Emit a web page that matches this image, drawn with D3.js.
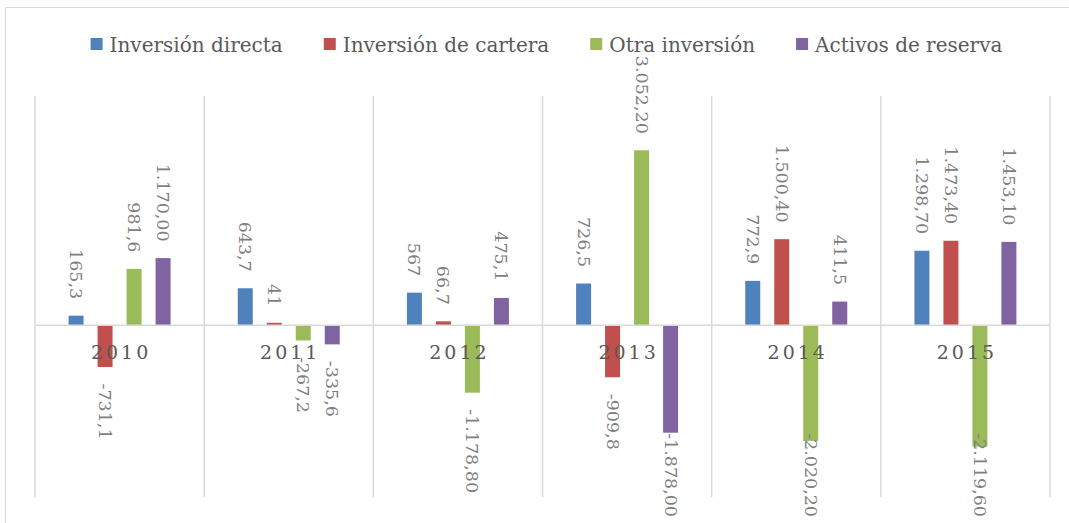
<!DOCTYPE html>
<html>
<head>
<meta charset="utf-8">
<script src="https://cdn.jsdelivr.net/npm/d3@7"></script>
<style>
  body { margin: 0; background: #fff; }
  svg { display: block; }
</style>
</head>
<body>
<div id="chart"></div>
<script>
// data
var years = ["2010", "2011", "2012", "2013", "2014", "2015"];
var seriesNames = ["Inversión directa", "Inversión de cartera", "Otra inversión", "Activos de reserva"];
var inversionDirecta = [165.3, 643.7, 567, 726.5, 772.9, 1298.7];
var inversionCartera = [-731.1, 41, 66.7, -909.8, 1500.4, 1473.4];
var otraInversion = [981.6, -267.2, -1178.8, 3052.2, -2020.2, -2119.6];
var activosReserva = [1170.0, -335.6, 475.1, -1878.0, 411.5, 1453.1];
var colors = ["#4F81BD", "#C0504D", "#9BBB59", "#8064A2"];

var allValues = [inversionDirecta, inversionCartera, otraInversion, activosReserva];

var W = 1069, H = 523;
var svg = d3.select("#chart").append("svg")
  .attr("width", W)
  .attr("height", H);

// chart border (only top & left visible)
svg.append("rect")
  .attr("x", 5.5).attr("y", 7.5)
  .attr("width", 1200).attr("height", 700)
  .attr("fill", "none")
  .attr("stroke", "#d9d9d9")
  .attr("stroke-width", 1);

var x = d3.scaleBand()
  .domain(years)
  .range([35, 1050])
  .padding(0);

var xs = d3.scaleBand()
  .domain(seriesNames)
  .range([0, x.bandwidth()])
  .paddingInner(0.483)
  .paddingOuter(1.158);

var y = d3.scaleLinear()
  .domain([-3000, 4000])
  .range([497, 96]);

var loc = d3.formatLocale({decimal: ",", thousands: ".", grouping: [3], currency: ["", ""], minus: "-"});
function fmtVal(v) {
  if (Math.abs(v) >= 1000) return loc.format(",.2f")(v);
  if (Number.isInteger(v)) return loc.format("d")(v);
  return loc.format(".1f")(v);
}

// vertical category separators
var bounds = years.map(function(d) { return x(d); }).concat([x.range()[1]]);
svg.append("g").selectAll("line")
  .data(bounds)
  .enter().append("line")
    .attr("x1", function(d) { return d; })
    .attr("x2", function(d) { return d; })
    .attr("y1", y(4000))
    .attr("y2", y(-3000))
    .attr("stroke", "#d9d9d9")
    .attr("stroke-width", 1.5);

// flatten for bars
var rows = [];
years.forEach(function(yr, i) {
  seriesNames.forEach(function(s, j) {
    rows.push({year: yr, series: s, value: allValues[j][i], color: colors[j]});
  });
});

svg.append("g").selectAll("rect")
  .data(rows)
  .enter().append("rect")
    .attr("x", function(d) { return x(d.year) + xs(d.series); })
    .attr("y", function(d) { return y(Math.max(0, d.value)); })
    .attr("width", xs.bandwidth())
    .attr("height", function(d) { return Math.abs(y(d.value) - y(0)); })
    .attr("fill", function(d) { return d.color; });

// zero axis line
svg.append("line")
  .attr("x1", x.range()[0]).attr("x2", x.range()[1])
  .attr("y1", y(0)).attr("y2", y(0))
  .attr("stroke", "#d9d9d9")
  .attr("stroke-width", 1.5);

// category labels
svg.append("g").selectAll("text")
  .data(years)
  .enter().append("text")
    .attr("x", function(d) { return x(d) + x.bandwidth() / 2 + 1.5; })
    .attr("y", 359)
    .attr("text-anchor", "middle")
    .attr("font-family", "DejaVu Serif")
    .attr("font-size", "19px")
    .attr("letter-spacing", "3px")
    .attr("fill", "#595959")
    .text(function(d) { return d; });

// data labels, rotated
var gap = 16.5, bottomLimit = 517;
var labels = svg.append("g").selectAll("text")
  .data(rows)
  .enter().append("text")
    .attr("font-family", "DejaVu Serif")
    .attr("font-size", "17.5px")
    .attr("fill", "#7f7f7f")
    .attr("dominant-baseline", "central")
    .attr("text-anchor", "start")
    .text(function(d) { return fmtVal(d.value); });

labels.each(function(d) {
  var len = this.getComputedTextLength();
  var cx = x(d.year) + xs(d.series) + xs.bandwidth() / 2;
  var start;
  if (d.value >= 0) {
    start = y(d.value) - gap - len;
  } else {
    start = Math.min(y(d.value) + gap, bottomLimit - len);
  }
  d3.select(this).attr("transform", "translate(" + cx + "," + start + ") rotate(90)");
});

// legend
var legend = svg.append("g");
var items = legend.selectAll("g")
  .data(seriesNames)
  .enter().append("g");
items.append("rect")
  .attr("width", 12).attr("height", 12)
  .attr("y", 38)
  .attr("fill", function(d, i) { return colors[i]; });
items.append("text")
  .attr("x", 19)
  .attr("y", 52)
  .attr("font-family", "DejaVu Serif")
  .attr("font-size", "20px")
  .attr("fill", "#595959")
  .text(function(d) { return d; });

var pos = 0, offsets = [];
items.each(function() {
  offsets.push(pos);
  pos += 19 + d3.select(this).select("text").node().getComputedTextLength() + 41;
});
var total = pos - 41;
var startX = 546.5 - total / 2;
items.attr("transform", function(d, i) { return "translate(" + (startX + offsets[i]) + ",0)"; });
</script>
</body>
</html>
